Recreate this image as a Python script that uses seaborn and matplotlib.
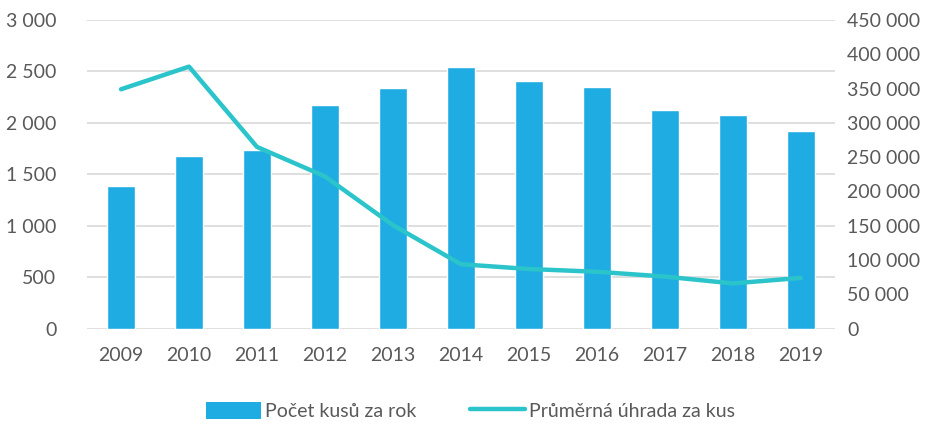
import numpy as np
import pandas as pd
import seaborn as sns
from matplotlib import pyplot as plt
from matplotlib.ticker import FuncFormatter
from matplotlib.patches import Patch
from matplotlib.lines import Line2D

# data
years = ["2009", "2010", "2011", "2012", "2013", "2014", "2015", "2016", "2017", "2018", "2019"]
pocet_kusu = [1385, 1675, 1740, 2170, 2335, 2545, 2405, 2345, 2125, 2080, 1920]
prumerna_uhrada = [349000, 382000, 265000, 222000, 151000, 94000, 87000, 83000, 76000, 66000, 74000]

bar_color = "#1EACE2"
line_color = "#2BC4CB"
text_color = "#595959"

sns.set_theme(style="white")
plt.rcParams['font.family'] = ['Lato', 'DejaVu Sans']

df = pd.DataFrame({"rok": years, "kusy": pocet_kusu, "uhrada": prumerna_uhrada})

fig = plt.figure(figsize=(9.41, 4.25), dpi=100)
ax = fig.add_axes([0.0925, 0.2266, 0.7945, 0.7264])

sns.barplot(data=df, x="rok", y="kusy", color=bar_color, width=0.41,
            saturation=1, ax=ax, zorder=2)
ax.set_ylim(0, 3000)
ax.set_yticks(np.arange(0, 3001, 500))
ax.yaxis.grid(True, color="#D9D9D9", linewidth=1.2, zorder=0)
ax.set_axisbelow(True)

ax2 = ax.twinx()
sns.lineplot(x=np.arange(len(years)), y=df["uhrada"], color=line_color,
             linewidth=3.2, ax=ax2, solid_capstyle="round", solid_joinstyle="round")
ax2.set_ylim(0, 450000)
ax2.set_yticks(np.arange(0, 450001, 50000))

fmt = FuncFormatter(lambda v, p: f"{int(v):,}".replace(",", " "))
for a in (ax, ax2):
    a.yaxis.set_major_formatter(fmt)
    a.set_xlabel("")
    a.set_ylabel("")
    for s in a.spines.values():
        s.set_visible(False)
    a.tick_params(axis="both", length=0, labelsize=14, labelcolor=text_color)
ax.tick_params(axis="y", pad=22)
ax.tick_params(axis="x", pad=13)
ax2.tick_params(axis="y", pad=9)
ax.set_xlim(-0.5, len(years) - 0.5)

handles = [Patch(facecolor=bar_color, edgecolor="none"),
           Line2D([0], [0], color=line_color, linewidth=3.2, solid_capstyle="round")]
fig.legend(handles, ["Počet kusů za rok", "Průměrná úhrada za kus"],
           loc="center", bbox_to_anchor=(0.5, 0.033), ncol=2, frameon=False,
           fontsize=14, labelcolor=text_color, handlelength=2.8, handleheight=1.0,
           columnspacing=2.8, handletextpad=0.2)

fig.savefig("out.png", dpi=100)
